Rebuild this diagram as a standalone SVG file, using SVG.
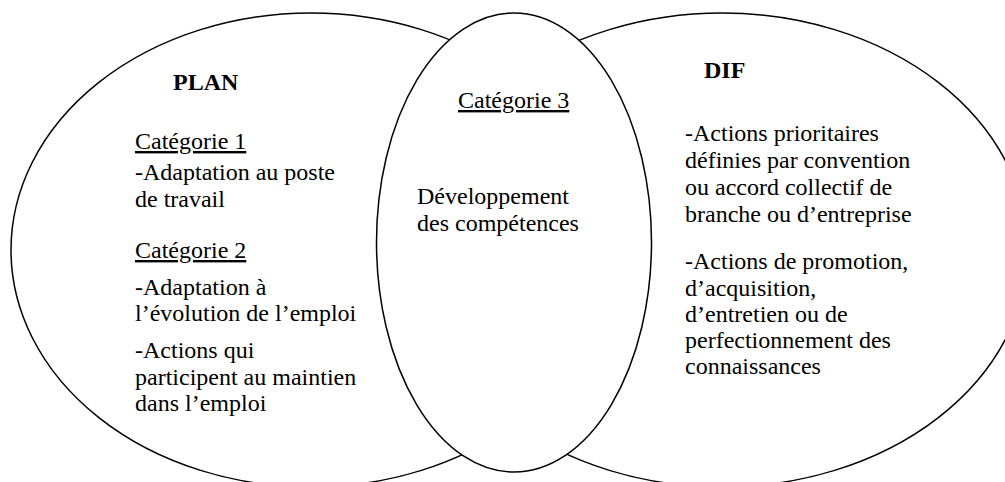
<svg xmlns="http://www.w3.org/2000/svg" width="1005" height="482" viewBox="0 0 1005 482">
<style>
.shape{fill:#fff;stroke:#000;stroke-width:1.5}
text{font-family:"Liberation Serif","Times New Roman",serif;font-size:24px;fill:#000}
.title{font-weight:bold}
.u{text-decoration:underline}
</style>
<rect width="1005" height="482" fill="#fff"/>
<g id="plan">
<ellipse class="shape" cx="311" cy="250" rx="300" ry="237"/>
</g>
<g id="dif">
<ellipse class="shape" cx="722" cy="250" rx="306" ry="237"/>
</g>
<g id="categorie3">
<ellipse class="shape" cx="514" cy="242.5" rx="137.5" ry="229.5"/>
</g>
<g id="plan-text">
<text class="title" x="173" y="90">PLAN</text>
<text class="u" x="135" y="149">Catégorie 1</text>
<text x="135" y="180">-Adaptation au poste</text>
<text x="135" y="207">de travail</text>
<text class="u" x="135" y="258">Catégorie 2</text>
<text x="135" y="295">-Adaptation à</text>
<text x="135" y="321">l’évolution de l’emploi</text>
<text x="135" y="358">-Actions qui</text>
<text x="135" y="385">participent au maintien</text>
<text x="135" y="411">dans l’emploi</text>
</g>
<g id="categorie3-text">
<text class="u" x="458" y="108">Catégorie 3</text>
<text x="417" y="204">Développement</text>
<text x="417" y="231">des compétences</text>
</g>
<g id="dif-text">
<text class="title" x="704" y="78">DIF</text>
<text x="685" y="141">-Actions prioritaires</text>
<text x="685" y="168">définies par convention</text>
<text x="685" y="195">ou accord collectif de</text>
<text x="685" y="222">branche ou d’entreprise</text>
<text x="685" y="269">-Actions de promotion,</text>
<text x="685" y="296">d’acquisition,</text>
<text x="685" y="322">d’entretien ou de</text>
<text x="685" y="348">perfectionnement des</text>
<text x="685" y="374">connaissances</text>
</g>
<g id="connectors"></g>
</svg>
